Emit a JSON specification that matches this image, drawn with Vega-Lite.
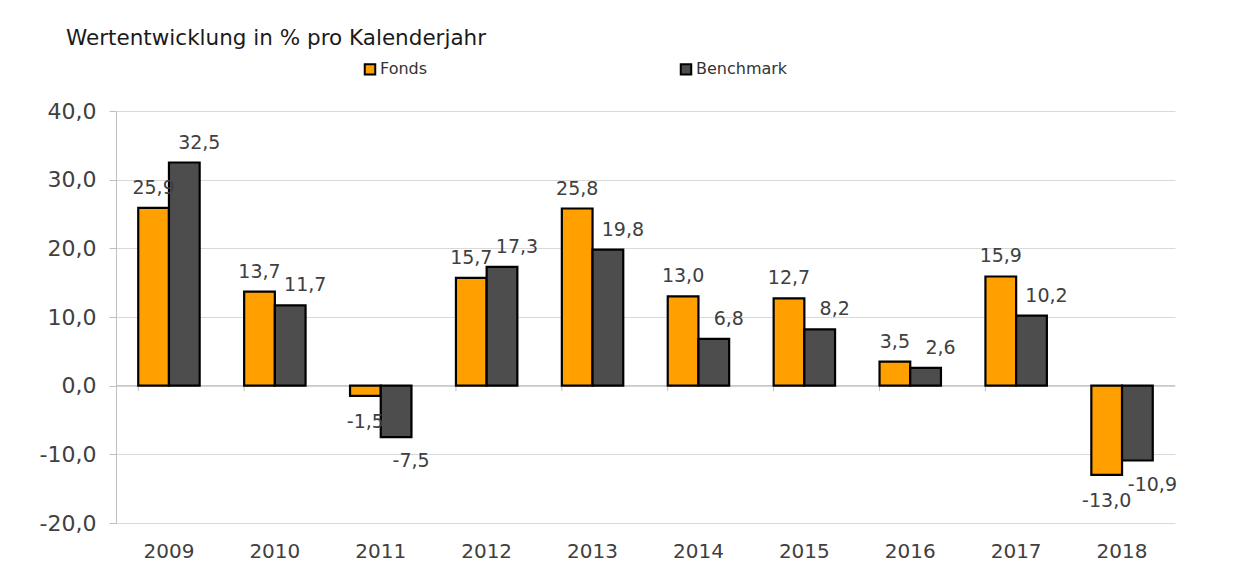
{
  "$schema": "https://vega.github.io/schema/vega-lite/v6.json",
  "width": 1059,
  "height": 412,
  "autosize": {"type": "none"},
  "padding": {"left": 116, "top": 111, "right": 69, "bottom": 49},
  "background": "white",
  "config": {
    "font": "DejaVu Sans",
    "view": {"stroke": null}
  },
  "title": {
    "text": "Wertentwicklung in % pro Kalenderjahr",
    "anchor": "start",
    "frame": "group",
    "dx": -50,
    "offset": 1,
    "baseline": "middle",
    "fontSize": 21.5,
    "fontWeight": "normal",
    "color": "#1a1a1a",
    "font": "DejaVu Sans"
  },
  "data": {
    "values": [
      {"year": "2009", "series": "Fonds", "value": 25.9},
      {"year": "2009", "series": "Benchmark", "value": 32.5},
      {"year": "2010", "series": "Fonds", "value": 13.7},
      {"year": "2010", "series": "Benchmark", "value": 11.7},
      {"year": "2011", "series": "Fonds", "value": -1.5},
      {"year": "2011", "series": "Benchmark", "value": -7.5},
      {"year": "2012", "series": "Fonds", "value": 15.7},
      {"year": "2012", "series": "Benchmark", "value": 17.3},
      {"year": "2013", "series": "Fonds", "value": 25.8},
      {"year": "2013", "series": "Benchmark", "value": 19.8},
      {"year": "2014", "series": "Fonds", "value": 13.0},
      {"year": "2014", "series": "Benchmark", "value": 6.8},
      {"year": "2015", "series": "Fonds", "value": 12.7},
      {"year": "2015", "series": "Benchmark", "value": 8.2},
      {"year": "2016", "series": "Fonds", "value": 3.5},
      {"year": "2016", "series": "Benchmark", "value": 2.6},
      {"year": "2017", "series": "Fonds", "value": 15.9},
      {"year": "2017", "series": "Benchmark", "value": 10.2},
      {"year": "2018", "series": "Fonds", "value": -13.0},
      {"year": "2018", "series": "Benchmark", "value": -10.9}
    ]
  },
  "transform": [
    {"calculate": "replace(replace(format(datum.value, '.1f'), '.', ','), '\u2212', '-')", "as": "label"}
  ],
  "encoding": {
    "x": {
      "field": "year",
      "type": "nominal",
      "scale": {"paddingInner": 0.42, "paddingOuter": 0.21},
      "axis": {
        "title": null,
        "labelAngle": 0,
        "labelFontSize": 20,
        "labelColor": "#404040",
        "labelPadding": 18,
        "ticks": false,
        "domain": false,
        "orient": "bottom"
      }
    },
    "y": {
      "field": "value",
      "type": "quantitative",
      "scale": {"domain": [-20, 40], "nice": false, "zero": false},
      "axis": {
        "title": null,
        "values": [-20, -10, 0, 10, 20, 30, 40],
        "labelExpr": "replace(replace(format(datum.value, '.1f'), '.', ','), '\u2212', '-')",
        "labelFontSize": 22,
        "labelColor": "#404040",
        "labelPadding": 13,
        "tickSize": 7,
        "tickColor": "#bfbfbf",
        "domainColor": "#bfbfbf",
        "gridColor": "#d9d9d9",
        "grid": true
      }
    }
  },
  "layer": [
    {
      "mark": {"type": "rule", "stroke": "#bfbfbf", "strokeWidth": 1},
      "data": {"values": [{"z": 0}]},
      "transform": [],
      "encoding": {
        "y": {"field": "z", "type": "quantitative"},
        "x": null
      }
    },
    {
      "transform": [{"filter": "datum.series === 'Fonds'"}],
      "mark": {"type": "rule", "stroke": "#bfbfbf", "strokeWidth": 1},
      "encoding": {
        "x": {"field": "year", "type": "nominal", "bandPosition": 0},
        "y": {"datum": 0, "type": "quantitative"},
        "y2": {"datum": -0.8}
      }
    },
    {
      "mark": {"type": "bar", "stroke": "black", "strokeWidth": 2.2},
      "encoding": {
        "xOffset": {
          "field": "series",
          "type": "nominal",
          "sort": ["Fonds", "Benchmark"],
          "scale": {"paddingInner": 0, "paddingOuter": 0}
        },
        "color": {
          "field": "series",
          "type": "nominal",
          "sort": ["Fonds", "Benchmark"],
          "scale": {"domain": ["Fonds", "Benchmark"], "range": ["#FFA000", "#4D4D4D"]},
          "legend": {
            "title": null,
            "orient": "none",
            "direction": "horizontal",
            "legendX": 246,
            "legendY": -50,
            "symbolType": "square",
            "symbolSize": 110,
            "symbolStrokeColor": "black",
            "symbolStrokeWidth": 2,
            "labelFontSize": 16,
            "labelColor": "#333333",
            "labelOffset": 2,
            "columnPadding": 248
          }
        }
      }
    },
    {
      "transform": [{"filter": "datum.series === 'Fonds'"}],
      "mark": {"type": "text", "fontSize": 19, "color": "#404040", "baseline": "middle", "dy": {"expr": "datum.value < 0 ? 26 : -20"}},
      "encoding": {
        "xOffset": {
          "field": "series",
          "type": "nominal",
          "sort": ["Fonds", "Benchmark"],
          "scale": {"domain": ["Fonds", "Benchmark"], "paddingInner": 0, "paddingOuter": 0}
        },
        "text": {"field": "label"}
      }
    },
    {
      "transform": [{"filter": "datum.series === 'Benchmark'"}],
      "mark": {"type": "text", "fontSize": 19, "color": "#404040", "baseline": "middle", "dx": 15, "dy": {"expr": "datum.value < 0 ? 24 : -20"}},
      "encoding": {
        "xOffset": {
          "field": "series",
          "type": "nominal",
          "sort": ["Fonds", "Benchmark"],
          "scale": {"domain": ["Fonds", "Benchmark"], "paddingInner": 0, "paddingOuter": 0}
        },
        "text": {"field": "label"}
      }
    }
  ]
}
